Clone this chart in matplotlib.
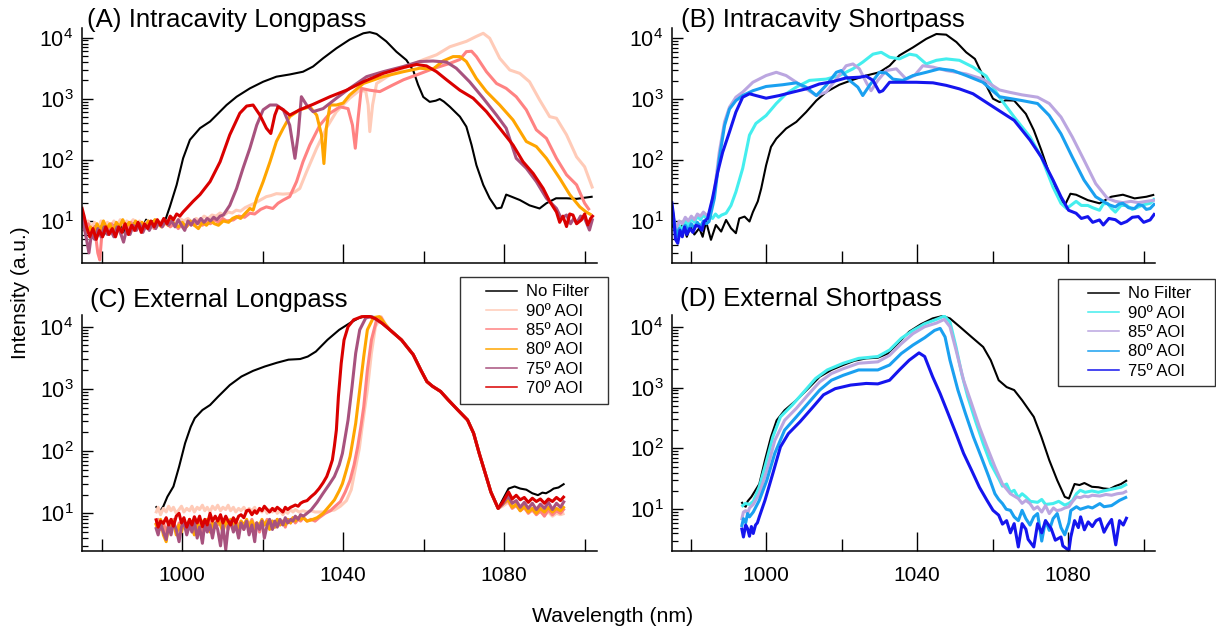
import matplotlib
matplotlib.use('Agg')
import matplotlib.pyplot as plt
from matplotlib.lines import Line2D
from matplotlib.legend_handler import HandlerLine2D
from matplotlib.ticker import FixedLocator, LogLocator, NullFormatter

plt.rcParams['font.family'] = ['Liberation Sans', 'DejaVu Sans']
plt.rcParams['mathtext.fontset'] = 'custom'
plt.rcParams['mathtext.rm'] = 'Liberation Sans'

# ---- data: (wavelength nm, intensity a.u.) ----

# (A) intracavity longpass
ic_lp_nofilter = [
    (975, 11), (975.8, 8), (976.6, 9.5), (977.4, 6.5), (978.2, 8.5), (979, 7), (979.8, 9),
    (980.6, 6), (981.4, 8), (982.2, 7.5), (983, 9.5), (983.8, 7), (984.6, 8.5), (985.4, 6.5),
    (986.2, 9), (987, 8), (987.8, 10), (988.6, 7.5), (989.4, 9), (990.2, 8), (991, 10.5),
    (991.8, 9), (992.6, 10), (993.4, 8.5), (994.2, 9.5), (995, 9), (995.7, 10), (996.9, 17),
    (998.6, 39), (1000.2, 106), (1001.9, 213), (1004.4, 330), (1006.9, 424), (1008.5, 540),
    (1011, 790), (1013.5, 1080), (1016.8, 1480), (1020.1, 1900), (1023.4, 2300), (1026.7, 2500),
    (1030, 2770), (1032.5, 3370), (1035, 4600), (1038.3, 6700), (1041.6, 9300), (1045, 11800),
    (1046.6, 12300), (1048.3, 11500), (1050.7, 8700), (1053.2, 5900), (1055.7, 4300),
    (1057.4, 2900), (1058.6, 1700), (1059.9, 1070), (1061.5, 890), (1063, 930), (1064, 990),
    (1065, 900), (1066.5, 740), (1069, 510), (1070.6, 350), (1071.9, 175), (1073.1, 82),
    (1074.8, 39), (1076.4, 23.5), (1078.1, 16), (1079.3, 16.5), (1080.5, 27), (1081.8, 25),
    (1083.9, 22), (1086.3, 18), (1088.8, 16), (1090.5, 19.5), (1092.9, 23.5), (1095.5, 23.5),
    (1098, 23), (1100, 24), (1102, 25)]
ic_lp_90 = [
    (975, 9), (975.8, 7.5), (976.6, 10), (977.4, 8), (978.2, 9.5), (979, 7.5), (979.8, 10),
    (980.6, 8.5), (981.4, 9.5), (982.2, 8), (983, 10), (983.8, 8.5), (984.6, 10.5), (985.4, 8.5),
    (986.2, 10), (987, 9), (987.8, 10.5), (988.6, 9), (989.4, 10), (990.4, 8.5), (991.4, 10),
    (992.4, 9), (993.4, 10.5), (994.4, 9.5), (995.4, 10.5), (996.4, 9), (997.4, 10.5),
    (998.4, 9.5), (999.4, 11), (1000.4, 10), (1001.4, 11), (1002.4, 9.5), (1003.4, 11),
    (1004.4, 10), (1005.4, 12), (1006.4, 11), (1007.4, 12.5), (1008.4, 12), (1009.4, 13.5),
    (1010.4, 12.5), (1011.4, 14), (1012.4, 13.5), (1013.4, 15), (1014.5, 14.5), (1015.6, 16.5),
    (1016.8, 18), (1018, 19.5), (1019.4, 22), (1020.9, 25), (1022, 26), (1023.4, 28),
    (1025, 27.5), (1026.7, 28), (1028, 30), (1029.2, 34), (1030.9, 64), (1033.4, 155),
    (1035.8, 330), (1038.3, 615), (1041.6, 1020), (1044.1, 1380), (1045.6, 1320), (1046.2, 790),
    (1046.6, 290), (1047.3, 790), (1048.3, 1780), (1051.6, 2450), (1054.9, 3160), (1059.9, 4360),
    (1063.2, 5250), (1066.5, 7100), (1070.6, 8700), (1073.1, 10500), (1074.8, 11800),
    (1076.4, 9800), (1078.9, 4600), (1081.4, 2960), (1083.9, 2600), (1086.3, 1900),
    (1088.8, 960), (1091.3, 510), (1093, 480), (1095.5, 257), (1098, 112), (1100, 77),
    (1102, 34)]
ic_lp_85 = [
    (975, 10), (975.8, 7), (976.6, 9), (977.4, 6.5), (978.2, 8), (979, 3), (979.5, 2.3),
    (980, 6), (980.8, 8.5), (981.6, 6.5), (982.4, 9), (983.2, 7), (984, 8.5), (984.8, 6),
    (985.6, 9), (986.4, 7.5), (987.2, 9.5), (988, 7), (988.8, 8.5), (989.6, 7.5), (990.4, 9),
    (991.2, 8), (992, 9.5), (993, 7.5), (994, 9), (995, 8), (996, 9.5), (997, 8), (998, 9),
    (999, 7.5), (1000, 9), (1001, 8), (1002, 9.5), (1003, 8.5), (1004, 10), (1005, 8.5),
    (1006, 9.5), (1007, 9), (1008, 10.5), (1009, 9.5), (1010, 11), (1011, 10), (1012.7, 10.4),
    (1014, 12), (1015.5, 11.5), (1016.8, 13.4), (1018, 13), (1019.5, 15.5), (1020.9, 17),
    (1022.5, 16), (1023.8, 19.5), (1025.1, 22), (1026.7, 25), (1028.4, 44), (1030, 93),
    (1031.7, 175), (1034.2, 370), (1036.7, 580), (1039.2, 740), (1041.2, 690), (1042.3, 370),
    (1043, 155), (1043.7, 480), (1044.5, 1480), (1046.6, 1380), (1049.1, 1310), (1052.4, 1690),
    (1055, 2050), (1058.2, 2450), (1062.3, 3100), (1066.5, 3800), (1069, 4400), (1070.6, 5900),
    (1071.9, 6000), (1073.1, 4900), (1075.6, 2770), (1078.1, 1780), (1080.5, 1480),
    (1083, 1080), (1085.5, 660), (1088, 310), (1090.5, 225), (1093, 106), (1095.5, 57),
    (1098, 39), (1100, 19.5), (1101.2, 15)]
ic_lp_80 = [
    (975, 12), (975.6, 9), (976.4, 6.5), (977.2, 8), (978, 6), (978.8, 9), (979.6, 7),
    (980.4, 10), (981.2, 7.5), (982, 9), (982.8, 6.5), (983.6, 9.5), (984.4, 8), (985.2, 10.5),
    (986, 8), (986.8, 9.5), (987.6, 7.5), (988.4, 10), (989.2, 8.5), (990, 9.5), (990.8, 8),
    (991.6, 10), (992.4, 8.5), (993.2, 10.5), (994, 9), (994.8, 8), (995.6, 10), (996.4, 8.5),
    (997.2, 10.5), (998, 9), (999, 8), (1000, 9.5), (1001, 8), (1002, 10), (1003, 8.5),
    (1004, 7.5), (1005, 9.5), (1006, 8.5), (1007, 10), (1008, 9), (1009, 8.5), (1010.2, 10),
    (1011.5, 9.5), (1012.5, 11), (1013.5, 11.8), (1014.5, 11), (1015.5, 13), (1016.8, 16),
    (1017.6, 15), (1018.5, 23.5), (1020.1, 44), (1021.8, 93), (1023.4, 200), (1025.1, 330),
    (1026.7, 510), (1029.2, 660), (1031.7, 740), (1033.4, 540), (1034.6, 257), (1035.2, 87),
    (1035.8, 330), (1036.7, 790), (1038.3, 790), (1040, 850), (1041.6, 1150), (1045, 1780),
    (1049.9, 2300), (1054.9, 2770), (1059, 3160), (1062.3, 3050), (1064.8, 4150),
    (1067.3, 4900), (1069, 4900), (1070.6, 4070), (1073.1, 2140), (1075.6, 1310), (1078.9, 790),
    (1082.2, 450), (1085.5, 200), (1088, 165), (1090.5, 106), (1093.8, 50), (1096.3, 27),
    (1098.8, 17), (1100.4, 14), (1101.7, 12.5)]
ic_lp_75 = [
    (975, 15), (975.6, 8), (976.2, 5), (976.8, 3), (977.4, 6), (978.2, 5), (979, 7.5),
    (979.8, 5.5), (980.6, 8), (981.4, 6), (982.2, 7), (983, 5.5), (983.8, 8), (984.6, 6.5),
    (985.4, 4.5), (986.2, 7.5), (987, 6), (987.8, 8.5), (988.6, 7), (989.4, 9), (990.2, 6.5),
    (991, 8.5), (991.8, 7), (992.6, 9), (993.4, 7.5), (994.2, 9.5), (995, 8), (995.8, 10),
    (996.6, 8.5), (997.4, 10), (998.2, 8), (999, 10.5), (999.8, 8.5), (1000.6, 7), (1001.4, 10),
    (1002.2, 8.5), (1003, 10.5), (1003.8, 9), (1004.6, 11), (1005.4, 9.5), (1006.2, 11),
    (1007, 10), (1007.8, 11.5), (1008.6, 10.5), (1009.4, 12), (1010.2, 12.5), (1011.8, 18),
    (1013.5, 34), (1015.1, 73), (1016.8, 155), (1018.5, 370), (1020.1, 660), (1021.8, 790),
    (1023.4, 790), (1025.1, 660), (1026.7, 370), (1028, 106), (1028.8, 257), (1029.6, 1080),
    (1030.9, 790), (1032.5, 615), (1035, 690), (1038.3, 1020), (1041.6, 1480), (1045.8, 2300),
    (1049.9, 2770), (1054.9, 3370), (1059, 4070), (1062.3, 4150), (1065.7, 3980),
    (1068.1, 3160), (1071.4, 1900), (1074.8, 1020), (1078.1, 540), (1080.5, 330), (1083, 106),
    (1085.5, 73), (1088, 44), (1090.5, 23.5), (1093, 16), (1094.2, 11), (1095.5, 12.5),
    (1096.5, 9), (1097.3, 11), (1098, 9.2), (1099, 12), (1100, 11), (1101.2, 7.1), (1102, 11)]
ic_lp_70 = [
    (975, 17), (975.6, 12), (976.2, 8), (977, 5.5), (977.8, 7.5), (978.6, 5), (979.4, 7),
    (980.2, 5.5), (981, 8), (981.8, 6), (982.6, 7.5), (983.4, 5.5), (984.2, 8), (985, 6.5),
    (985.8, 9), (986.6, 6), (987.4, 8.5), (988.2, 7), (989, 9.5), (989.8, 6.5), (990.6, 9),
    (991.4, 7.5), (992.2, 10), (993, 8), (993.8, 10.5), (994.6, 8.5), (995.4, 11), (996.2, 9),
    (997, 12), (997.8, 10.5), (998.6, 13), (999.4, 12), (1000.2, 14), (1001.4, 17),
    (1002.7, 21), (1004.4, 27), (1006.9, 44), (1009.4, 93), (1011.8, 257), (1014.3, 580),
    (1016, 760), (1017.6, 790), (1019.3, 540), (1020.9, 330), (1022, 270), (1023, 540),
    (1023.8, 740), (1025.1, 660), (1026.7, 540), (1029.2, 660), (1032.5, 810), (1036.7, 1080),
    (1040.8, 1380), (1045, 1900), (1049.9, 2600), (1054.9, 3240), (1058.2, 3640),
    (1060.7, 3450), (1063.2, 2770), (1065.7, 2040), (1069, 1380), (1072.3, 1020), (1075.6, 615),
    (1078.9, 330), (1082.2, 175), (1084.7, 93), (1087.2, 60), (1089.7, 34), (1091.3, 21),
    (1093, 14), (1093.8, 9.5), (1094.6, 12), (1095.5, 8.1), (1096.3, 13), (1097.1, 12.5),
    (1098, 9), (1099.2, 10.4), (1100, 13), (1100.8, 8.6), (1101.5, 11), (1102.2, 12.5)]

# (B) intracavity shortpass
ic_sp_nofilter = [
    (975, 9), (976, 7), (977, 6.5), (978, 9), (979, 5.5), (980, 8), (981, 6), (982.3, 7.6),
    (983.2, 5.5), (984.1, 9.8), (985.4, 4.9), (986.7, 8.6), (988.1, 6.7), (989.4, 10.4),
    (990.7, 7.6), (992, 6.3), (992.9, 11), (994.3, 11.8), (995.6, 9.8), (996.5, 14),
    (997.8, 21), (998.7, 34), (1000, 82), (1001.3, 165), (1002.7, 225), (1005.3, 330),
    (1008, 424), (1010.6, 615), (1013.3, 950), (1015.9, 1310), (1019.4, 1730), (1023, 2090),
    (1026.5, 2450), (1030, 2770), (1032.7, 3550), (1035.3, 5250), (1038.9, 7100),
    (1042.4, 9800), (1045.1, 11800), (1047.7, 11500), (1050.4, 8700), (1053, 5900),
    (1055.3, 4600), (1057, 2770), (1058.3, 1690), (1060.1, 1020), (1061.8, 900), (1063.5, 960),
    (1065.7, 950), (1068.8, 575), (1070.9, 310), (1072.9, 145), (1075, 60), (1077, 28),
    (1079.1, 18), (1080.6, 28), (1082.1, 27), (1085.2, 22), (1088.3, 19.5), (1091.4, 25),
    (1094.5, 27), (1097.6, 23.5), (1100.7, 25), (1102.8, 27)]
ic_sp_90 = [
    (975, 15), (975.6, 9), (976.2, 6), (977, 8.5), (977.8, 7), (978.6, 10), (979.4, 8.5),
    (980.2, 11), (981, 9.5), (981.8, 12), (982.6, 10.5), (983.4, 12.5), (984.2, 11),
    (985, 12.5), (985.8, 11), (986.6, 13), (987.4, 11.5), (988.2, 12.5), (989.4, 13.4),
    (990.7, 18), (992, 30), (993.8, 73), (995.6, 257), (997.3, 400), (1000, 540), (1002.7, 850),
    (1005.3, 1230), (1008, 1580), (1011.5, 2040), (1015.9, 2140), (1019.4, 2450), (1023, 3160),
    (1025.6, 4070), (1028.3, 5500), (1030.5, 5900), (1032.7, 4900), (1035.3, 4600),
    (1038, 5500), (1039.8, 5250), (1042.4, 3800), (1045.1, 4360), (1047.7, 4600),
    (1051.2, 4360), (1054.8, 3370), (1058.3, 2400), (1061.7, 1100), (1065.7, 510),
    (1069.9, 240), (1072.9, 112), (1076, 36), (1078.1, 19.5), (1079.6, 16), (1082.1, 21),
    (1083.5, 18), (1085.2, 18), (1086.5, 16.5), (1088.3, 15), (1089.3, 19), (1090.4, 19.5),
    (1091.5, 16), (1092.5, 14), (1094, 18), (1095.5, 18), (1097, 15.5), (1098.6, 17),
    (1100, 18.5), (1101.7, 19.5), (1103, 23.5)]
ic_sp_85 = [
    (975, 17), (975.6, 10), (976.2, 7.5), (977, 10), (977.8, 9), (978.6, 11.5), (979.4, 10),
    (980.2, 12), (981, 10.5), (981.8, 13), (982.6, 12), (983.4, 14), (984.2, 12.5),
    (984.9, 12.6), (986.3, 30), (987.6, 135), (989, 424), (990.3, 740), (992, 1080),
    (993.8, 1310), (996.5, 1900), (1000, 2450), (1002.7, 2770), (1005.3, 2450), (1008, 1900),
    (1010.6, 1480), (1013.3, 1150), (1015.9, 1310), (1018.6, 2140), (1021.2, 3550),
    (1023, 3800), (1024.7, 3160), (1026.5, 1900), (1027.8, 1380), (1029.6, 2040),
    (1031.8, 2960), (1034.5, 3160), (1037.1, 2140), (1039.3, 2450), (1041.5, 3550),
    (1044.2, 3370), (1047.7, 2960), (1053, 2600), (1057.4, 2140), (1061.8, 1420),
    (1064.5, 1300), (1067.8, 1180), (1071.9, 1080), (1075, 850), (1078.1, 510), (1081.1, 240),
    (1084.2, 100), (1087.3, 41), (1090.4, 23.5), (1092.5, 21), (1094.5, 20), (1096.6, 21),
    (1098.6, 20), (1100.7, 21), (1103, 22)]
ic_sp_80 = [
    (975, 18), (975.6, 10), (976.2, 5.5), (977, 7.5), (977.8, 6), (978.6, 8.5), (979.4, 7),
    (980.2, 9), (981, 7.5), (981.8, 9.5), (982.6, 8), (983.4, 10), (984.2, 9), (984.9, 9.8),
    (986.3, 23.5), (987.6, 106), (989, 370), (990.3, 690), (992, 950), (993.8, 1150),
    (996.5, 1380), (1000, 1620), (1004.4, 1730), (1008, 1860), (1010.6, 1580), (1013.3, 1150),
    (1015.9, 1690), (1018.6, 2770), (1019.9, 2960), (1022.1, 2040), (1024.3, 1580),
    (1025.6, 1150), (1027.4, 1690), (1030, 2770), (1031.8, 2700), (1033.6, 2140),
    (1036.2, 2040), (1038.9, 2450), (1042.4, 2770), (1045.9, 3160), (1049.5, 2960),
    (1053, 2450), (1057.4, 1900), (1061.8, 1100), (1067.8, 950), (1071.9, 850), (1075, 540),
    (1078.1, 270), (1081.1, 112), (1084.2, 47), (1087.3, 25), (1089.3, 21), (1090.8, 18.5),
    (1092.5, 17), (1093.5, 19), (1094.5, 19.5), (1096, 16.5), (1097.6, 16), (1098.6, 18.5),
    (1099.7, 18), (1100.7, 15.5), (1101.7, 16), (1103, 19.5)]
ic_sp_75 = [
    (975, 21), (975.5, 12), (976, 5), (976.6, 4.3), (977.2, 7), (977.8, 5.5), (978.4, 8),
    (979, 6), (979.8, 7.5), (980.6, 6.5), (981.4, 8.5), (982.3, 8.1), (983, 7), (983.6, 9.8),
    (984.5, 11), (985.8, 23.5), (987.2, 64), (988.5, 135), (990.3, 290), (992, 615),
    (993.8, 1080), (995.6, 1230), (997.3, 1150), (1000, 1040), (1003.5, 1150), (1007.1, 1310),
    (1010.6, 1480), (1014.1, 1780), (1017.7, 1950), (1021.2, 2240), (1024.7, 2300),
    (1026.5, 2400), (1028.3, 2040), (1030, 1310), (1030.9, 1380), (1032.7, 1900),
    (1035.3, 1900), (1039.8, 1900), (1044.2, 1860), (1047.7, 1690), (1051.2, 1480),
    (1054.8, 1230), (1058.3, 890), (1061.7, 650), (1065.7, 450), (1069.9, 213), (1072.9, 112),
    (1076, 47), (1078.1, 25), (1080.1, 15), (1082.1, 13.4), (1083.5, 11), (1085.2, 11.8),
    (1086.5, 9.5), (1088.3, 10.4), (1089.3, 8.6), (1090.8, 11), (1092.5, 10.5), (1094, 9),
    (1095.5, 9.8), (1097, 11.5), (1098.6, 11.8), (1100, 9.5), (1101.7, 10.4), (1103, 13.4)]

# (C) external longpass: rise + peak, shared decay, noise floor after 1079 nm
ext_lp_decay = [
    (1051.6, 8900), (1054.5, 6100), (1057.4, 3550), (1059.3, 2000), (1060.8, 1310),
    (1062.2, 1100), (1064.2, 910), (1066.1, 665), (1068.5, 457), (1070.9, 316), (1072.4, 194),
    (1073.8, 92), (1075.3, 44), (1076.7, 22), (1078.5, 12)]
ext_lp_nofilter_rise = [
    (993.4, 13), (994.4, 10.6), (995.3, 13), (996.3, 18.5), (997.8, 27), (999.2, 56),
    (1000.7, 134), (1002.1, 246), (1003.1, 338), (1005, 457), (1006.9, 550), (1008.9, 750),
    (1011.8, 1150), (1014.7, 1580), (1017.6, 1950), (1020.5, 2290), (1023.5, 2630),
    (1026.4, 2950), (1029.3, 3020), (1031.2, 3310), (1033.2, 3980), (1036.1, 6160),
    (1039, 8900), (1041.9, 11700), (1043.9, 13800), (1045.8, 14800), (1047.7, 14300),
    (1049.7, 11300)]
ext_lp_nofilter_floor = [
    (1079.6, 16.4), (1081.1, 25), (1082.6, 27), (1084, 25), (1085.5, 24), (1087, 21),
    (1088.4, 19.6), (1089.5, 21.5), (1090.4, 21), (1091.5, 23), (1092.3, 25), (1093.5, 26),
    (1095, 30)]
ext_lp_90_rise = [
    (993.4, 10), (994, 12.5), (994.6, 9.5), (995.3, 12), (996, 10.5), (996.6, 13), (997.2, 11),
    (997.8, 12.5), (998.5, 10), (999.2, 11.5), (999.8, 13), (1000.4, 10.5), (1001.1, 12),
    (1001.8, 11), (1002.4, 13), (1003, 10.5), (1003.7, 12.5), (1004.3, 11.5), (1005, 13.5),
    (1005.6, 11), (1006.2, 12.5), (1006.9, 10.5), (1007.5, 13), (1008.2, 11.5), (1008.8, 13.5),
    (1009.5, 11), (1010.1, 12.5), (1010.8, 11.5), (1011.4, 13.5), (1012, 11), (1012.7, 12.5),
    (1013.3, 10.5), (1014, 12), (1014.6, 11), (1015.3, 12.5), (1016, 10.5), (1016.6, 12),
    (1017.3, 11), (1018, 12.5), (1018.5, 10), (1019.2, 11.5), (1019.8, 10.5), (1020.4, 12),
    (1021.1, 10), (1021.7, 11.5), (1022.4, 10.5), (1023, 12), (1023.6, 10), (1024.3, 11),
    (1025, 9.5), (1025.6, 11), (1026.2, 10), (1026.9, 11.5), (1027.5, 10.5), (1028.1, 11.5),
    (1029, 10.5), (1030, 11), (1031, 10.5), (1032, 11), (1033, 10.5), (1035, 10.5),
    (1037.8, 11.3), (1039.3, 13), (1040.8, 16), (1042, 24), (1043.1, 56), (1044, 110),
    (1044.6, 219), (1046, 960), (1047, 3720), (1048, 10000), (1049.4, 14500), (1050.5, 11000)]
ext_lp_90_floor = [
    (1079.6, 13), (1081, 15), (1082, 12.5), (1083, 13), (1084, 11.5), (1085, 12), (1086, 10.5),
    (1087, 11), (1088, 10), (1089, 10.5), (1090, 9.5), (1091, 10.5), (1092, 9), (1093, 10),
    (1094, 9.5), (1095, 10)]
ext_lp_85_rise = [
    (993.4, 6.5), (994, 8), (994.6, 5.5), (995.3, 7.5), (996, 4.5), (996.6, 7), (997.2, 6),
    (997.8, 8), (998.5, 5), (999.2, 7), (999.8, 5.5), (1000.4, 7.5), (1001.1, 4.8),
    (1001.8, 7), (1002.4, 6), (1003, 8), (1003.7, 5.5), (1004.3, 7), (1005, 5), (1005.6, 7.5),
    (1006.2, 6), (1006.9, 8), (1007.5, 5.5), (1008.2, 7), (1008.8, 6.5), (1009.5, 8),
    (1010.1, 6), (1010.8, 7.5), (1011.4, 5.5), (1012, 7), (1012.7, 6.5), (1013.3, 8),
    (1014, 6), (1014.6, 7.5), (1015.3, 5.5), (1016, 7.5), (1016.6, 6.5), (1017.3, 8),
    (1018, 6), (1018.5, 7), (1019.2, 5), (1019.8, 7.5), (1020.4, 6.5), (1021.1, 8),
    (1021.7, 6.5), (1022.4, 7.5), (1023, 6), (1023.6, 8), (1024.3, 6.5), (1025, 7.5),
    (1025.6, 6), (1026.2, 8), (1026.9, 7), (1027.5, 8.5), (1028.1, 7), (1028.8, 8),
    (1029.4, 7.5), (1030.1, 8.5), (1031, 7.5), (1032, 8), (1033, 7.5), (1034, 8.5),
    (1035.5, 10), (1036.8, 11), (1038, 13), (1039.3, 15.4), (1040.5, 22), (1041.7, 34),
    (1042.7, 60), (1043.6, 118), (1044.4, 250), (1045.1, 515), (1046, 2000), (1047, 6100),
    (1048.3, 12900), (1049.4, 14000), (1050.5, 10500)]
ext_lp_85_floor = [
    (1079.6, 14), (1081, 16), (1082, 12), (1083, 13.5), (1084, 11), (1085, 12.5), (1086, 10),
    (1087, 11.5), (1088, 9.5), (1089, 11), (1090, 9), (1091, 11.5), (1092, 9.5), (1093, 11),
    (1094, 10), (1095, 12)]
ext_lp_80_rise = [
    (993.4, 7), (994, 5), (994.6, 8), (995.3, 4.5), (996, 3.5), (996.6, 6.5), (997.2, 5.5),
    (997.8, 7.5), (998.5, 4.5), (999.2, 6.5), (999.8, 5), (1000.4, 7), (1001.1, 5.5),
    (1001.8, 8), (1002.4, 6), (1003, 4.5), (1003.7, 7), (1004.3, 5.5), (1005, 7.5),
    (1005.6, 6), (1006.2, 8), (1006.9, 5), (1007.5, 7), (1008.2, 6), (1008.8, 8),
    (1009.5, 6.5), (1010.1, 5), (1010.8, 7.5), (1011.4, 6.5), (1012, 8), (1012.7, 6),
    (1013.3, 7), (1014, 5.5), (1014.6, 7.5), (1015.3, 6.5), (1016, 8), (1016.6, 6),
    (1017.3, 7.5), (1018, 5.5), (1018.5, 7), (1019.2, 6.5), (1019.8, 8), (1020.4, 6.5),
    (1021.1, 7.5), (1021.7, 5.5), (1022.4, 7.5), (1023, 6), (1023.6, 8), (1024.3, 6.5),
    (1025, 7.5), (1025.6, 6.5), (1026.2, 8), (1026.9, 7), (1027.5, 8.5), (1028.1, 7.5),
    (1028.8, 8.5), (1029.4, 8), (1030.1, 8.5), (1031, 7.5), (1032, 7.8), (1033.5, 8.5),
    (1035, 10), (1036.5, 13), (1037.8, 16.4), (1039, 23), (1039.8, 30), (1040.8, 50),
    (1041.7, 82), (1042.4, 150), (1043.1, 280), (1044.1, 960), (1045.1, 3310), (1046, 8900),
    (1047.5, 14000), (1049, 14500), (1050.5, 10800)]
ext_lp_80_floor = [
    (1079.6, 14), (1081, 17), (1082, 12.5), (1083, 14), (1084, 11), (1085, 13), (1086, 10.5),
    (1087, 12), (1088, 10), (1089, 12), (1090, 10.5), (1091, 12.5), (1092, 10.5), (1093, 12),
    (1094, 11), (1095, 13)]
ext_lp_75_rise = [
    (993.4, 6), (994, 4.5), (994.6, 7), (995.3, 5), (996, 3.8), (996.6, 6.5), (997.2, 4.5),
    (997.8, 7), (998.5, 5.5), (999.2, 3.5), (999.8, 6), (1000.4, 7.5), (1001.1, 4.5),
    (1001.8, 6.5), (1002.4, 5), (1003, 7.5), (1003.7, 4), (1004.3, 6), (1005, 3.3),
    (1005.6, 7), (1006.2, 5), (1006.9, 6.5), (1007.5, 4), (1008.2, 7), (1008.8, 5.5),
    (1009.5, 3), (1010.1, 6.5), (1010.8, 2.6), (1011.4, 6), (1012, 7.5), (1012.7, 5),
    (1013.3, 6.5), (1014, 4), (1014.6, 7), (1015.3, 5.5), (1016, 7.5), (1016.6, 4.5),
    (1017.3, 6.5), (1018, 3.5), (1018.5, 7), (1019.2, 5.5), (1019.8, 7.5), (1020.4, 4),
    (1021.1, 6.5), (1021.7, 8), (1022.4, 5.5), (1023, 7.5), (1023.6, 6), (1024.3, 8),
    (1025, 6.5), (1025.6, 8.5), (1026.2, 7), (1026.9, 8), (1027.5, 7.5), (1028.1, 9),
    (1028.8, 8), (1029.4, 9.5), (1030.1, 9), (1031, 10), (1032, 11.3), (1033.5, 15),
    (1035, 21), (1036.5, 29), (1037.8, 39), (1039, 60), (1039.8, 92), (1040.5, 170),
    (1041.2, 316), (1042.2, 1100), (1043.1, 3750), (1044.1, 8900), (1045.6, 13800),
    (1047, 14500), (1049.7, 11300)]
ext_lp_75_floor = [
    (1079.6, 14), (1081, 19), (1082, 14.5), (1083, 16), (1084, 12.5), (1085, 15), (1086, 12),
    (1087, 14.5), (1088, 11.5), (1089, 14), (1090, 12), (1091, 15), (1092, 11.5), (1093, 14.5),
    (1094, 12.5), (1095, 16)]
ext_lp_70_rise = [
    (993.4, 8.3), (994, 6), (994.6, 7.5), (995.3, 6.9), (996, 8.5), (996.6, 6.5), (997.2, 8),
    (997.8, 6.2), (998.5, 9), (999.2, 10), (999.8, 7), (1000.4, 8.5), (1001.1, 6), (1001.8, 8),
    (1002.4, 6.5), (1003, 8.8), (1003.7, 7), (1004.3, 9), (1005, 6.1), (1005.6, 8),
    (1006.2, 6.5), (1006.9, 10), (1007.5, 7.5), (1008.2, 9), (1008.8, 7.5), (1009.5, 9.5),
    (1010.1, 7), (1010.8, 9), (1011.4, 7.5), (1012, 6.5), (1012.7, 8.5), (1013.3, 7),
    (1014, 9), (1014.6, 9.5), (1015.3, 8.5), (1016, 11), (1016.6, 11.3), (1017.3, 9.5),
    (1018, 11), (1018.5, 10), (1019.2, 12), (1019.8, 11), (1020.4, 13), (1021.1, 11.5),
    (1021.7, 10.5), (1022.4, 12), (1023, 11), (1023.6, 12.5), (1024.3, 11.5), (1025, 10.5),
    (1025.6, 12.5), (1026.2, 11.5), (1026.9, 12.5), (1027.5, 13), (1028.1, 13.6), (1028.8, 13),
    (1029.4, 14.5), (1030.1, 15.4), (1031, 16), (1032, 18.5), (1033, 21), (1034, 25),
    (1035, 31), (1035.9, 39), (1036.6, 52), (1037.3, 72), (1037.8, 120), (1038.3, 219),
    (1038.8, 750), (1039.5, 2580), (1040.2, 6100), (1041.2, 10000), (1042.6, 12900),
    (1044.6, 14500), (1046.5, 14600), (1048, 13500), (1049.7, 11300)]
ext_lp_70_floor = [
    (1079.6, 15), (1081.1, 22), (1082, 17), (1083, 19.5), (1084, 16.5), (1085, 18), (1086, 15),
    (1087, 17.5), (1088, 15.5), (1089, 17), (1090, 14.5), (1091, 17), (1092, 15.5), (1093, 18),
    (1094, 16), (1095, 19)]

# (D) external shortpass
ext_sp_nofilter = [
    (993.5, 13.2), (994.1, 11.5), (994.6, 11), (995.1, 13.5), (996.1, 16), (998.2, 26),
    (999.7, 64), (1001.3, 155), (1002.8, 290), (1004.9, 424), (1008, 620), (1011.1, 960),
    (1014.2, 1510), (1017.3, 1950), (1020.4, 2350), (1023.4, 2760), (1026.5, 3020),
    (1029.6, 3100), (1032.2, 3630), (1034.8, 5250), (1037.9, 8300), (1041, 11000),
    (1044.1, 13700), (1046.7, 15000), (1048.7, 13700), (1051.3, 10000), (1054.4, 6800),
    (1057.5, 4650), (1059.5, 2820), (1061.6, 1320), (1063.7, 1020), (1065.7, 910),
    (1067.8, 620), (1070.9, 330), (1072.9, 155), (1075, 64), (1077.1, 30), (1079.1, 16),
    (1080.2, 15), (1081.7, 26), (1083, 25), (1084.3, 27), (1086.3, 23.4), (1088, 23),
    (1089.4, 22), (1091, 21.5), (1092.5, 24), (1094, 26), (1095.6, 30)]
ext_sp_90 = [
    (993.5, 11), (994.5, 12.5), (995.6, 12), (996.6, 13.5), (998.2, 23.5), (999.7, 50),
    (1001.8, 155), (1003.8, 330), (1006.9, 515), (1010, 850), (1013.1, 1410), (1016.2, 1950),
    (1020.4, 2510), (1024.5, 3020), (1029.6, 3240), (1032.7, 4150), (1035.8, 6460),
    (1038.9, 8700), (1042, 11200), (1045.1, 13200), (1047.2, 15000), (1048.7, 12000),
    (1050.3, 4650), (1051.8, 1700), (1053.4, 710), (1055.4, 290), (1057.5, 120), (1059.5, 56),
    (1061.6, 32), (1062.6, 24), (1063.7, 26), (1064.7, 19), (1065.7, 20.5), (1066.8, 15.5),
    (1067.8, 18), (1068.8, 16), (1070, 13.5), (1071.9, 13), (1073, 14.5), (1074, 12),
    (1076, 12.4), (1077.5, 13.5), (1079.1, 11.7), (1080.2, 12.5), (1081.2, 14), (1082.2, 18),
    (1083.2, 20.5), (1084.5, 19), (1086.3, 20), (1088, 19), (1089.4, 20), (1091, 21),
    (1092.5, 22), (1094, 23), (1095.6, 26)]
ext_sp_85 = [
    (993.5, 6.6), (994, 9), (994.6, 9.5), (995.1, 8.5), (995.6, 10.5), (996.6, 12),
    (998.2, 18), (1000.2, 44), (1002.3, 135), (1004.9, 290), (1008, 455), (1011.1, 760),
    (1014.2, 1240), (1017.3, 1700), (1020.4, 2040), (1024.5, 2510), (1029.6, 2650),
    (1032.7, 3390), (1035.8, 5250), (1038.9, 7700), (1042, 10000), (1045.1, 11500),
    (1047.2, 13200), (1048.7, 10000), (1050.3, 4150), (1052.3, 1320), (1054.4, 550),
    (1056.5, 225), (1058.5, 106), (1060.6, 50), (1062.6, 26), (1064.7, 18), (1066.8, 15),
    (1067.8, 12.5), (1068.8, 14), (1069.9, 12.4), (1070.9, 10), (1071.9, 11), (1073, 9),
    (1074, 11.5), (1075, 8.5), (1076.1, 10.5), (1077, 9.5), (1078.1, 9.8), (1079.1, 10.5),
    (1080.2, 11), (1081.2, 13.5), (1082.2, 16), (1083.2, 15.5), (1084.3, 16.5), (1085.3, 16),
    (1086.4, 17), (1088.4, 16.5), (1090, 17.5), (1091.5, 17), (1093, 18), (1094.5, 18.5),
    (1095.6, 20)]
ext_sp_80 = [
    (993.5, 5.1), (994, 7), (994.6, 6), (995.1, 8.5), (995.6, 7.5), (996.6, 9), (998.2, 14),
    (1000.2, 30), (1002.3, 83), (1004.9, 200), (1008, 330), (1011.1, 550), (1014.2, 910),
    (1017.3, 1320), (1020.4, 1590), (1024.5, 1950), (1029.6, 1950), (1032.7, 2350),
    (1035.8, 3630), (1038.9, 5000), (1042, 6600), (1044.6, 8700), (1046.1, 9400),
    (1047.4, 6800), (1048.7, 2820), (1050.8, 910), (1052.8, 375), (1054.9, 155), (1057, 72),
    (1059, 34), (1060.6, 18), (1061.6, 14.5), (1062.6, 12.4), (1063.6, 10), (1064.7, 9.6),
    (1065.7, 7.5), (1066.8, 6.5), (1067.8, 9.6), (1068.8, 7), (1069.9, 5.5), (1070.9, 7.5),
    (1071.9, 8.5), (1073, 3), (1074, 6.5), (1075, 4.5), (1076, 7), (1077.1, 8.5), (1078.1, 5),
    (1079.1, 3.8), (1080.2, 6), (1080.7, 9.5), (1082.2, 11), (1083.2, 10), (1085.3, 11),
    (1086.4, 10.5), (1088.4, 12.4), (1089.5, 11), (1091.5, 11.5), (1093.6, 14), (1095.6, 16)]
ext_sp_75 = [
    (993.5, 5), (994, 3.5), (994.6, 5.5), (995.1, 4.8), (995.6, 3.6), (996.1, 5.2), (996.6, 4),
    (997.2, 5.5), (997.7, 6), (998.2, 7.5), (999.7, 14), (1001.8, 39), (1003.8, 106),
    (1005.9, 175), (1009, 275), (1012.1, 455), (1015.2, 760), (1018.3, 960), (1022.4, 1100),
    (1026.5, 1170), (1029.6, 1150), (1032.7, 1320), (1035.3, 1950), (1037.9, 2820),
    (1040.5, 3720), (1042, 3240), (1044.1, 1510), (1046.1, 795), (1048.2, 375), (1050.3, 175),
    (1052.3, 83), (1054.4, 44), (1056.5, 23), (1058.5, 14), (1060.1, 9.6), (1061.6, 8),
    (1062.6, 5.7), (1063.7, 6.5), (1064.7, 4.1), (1065.7, 5.8), (1066.8, 2.4), (1067.8, 5.8),
    (1068.8, 4.7), (1069.4, 3.2), (1070.9, 2.4), (1071.9, 5.8), (1073, 4.1), (1074, 6.5),
    (1075.5, 4.8), (1076.6, 3.1), (1078.1, 3.5), (1078.6, 2.5), (1080.2, 2.1), (1080.7, 3.5),
    (1081.7, 6.5), (1082.7, 5), (1083.3, 7.5), (1084.3, 4.6), (1085.3, 6.2), (1086.4, 5.2),
    (1087.4, 6.5), (1088.4, 7), (1089.5, 4.2), (1090.5, 5.5), (1091.5, 6.8), (1092.6, 2.6),
    (1093.6, 6.5), (1094.6, 5.5), (1095.6, 7.5)]

lp_labels = ['No Filter', '90º AOI', '85º AOI', '80º AOI', '75º AOI', '70º AOI']
sp_labels = ['No Filter', '90º AOI', '85º AOI', '80º AOI', '75º AOI']
lp_colors = ['black', '#FFCBB8', '#FF8282', '#FFA500', '#A8527E', '#DA0000']
sp_colors = ['black', '#44EEEE', '#BBA6E0', '#1AA0F0', '#1515EE']
line_widths = [1.5, 2.2, 2.2, 2.2, 2.2, 2.2]

wl_major = [1000, 1040, 1080]
wl_minor = [980, 1020, 1060, 1100]
decades = [10, 100, 1000, 10000]

ext_lp_curves = [
    ext_lp_nofilter_rise + ext_lp_decay + ext_lp_nofilter_floor,
    ext_lp_90_rise + ext_lp_decay + ext_lp_90_floor,
    ext_lp_85_rise + ext_lp_decay + ext_lp_85_floor,
    ext_lp_80_rise + ext_lp_decay + ext_lp_80_floor,
    ext_lp_75_rise + ext_lp_decay + ext_lp_75_floor,
    ext_lp_70_rise + ext_lp_decay + ext_lp_70_floor,
]

W, H = 1216, 631
fig = plt.figure(figsize=(W / 100, H / 100), dpi=100)


def px_axes(x0, x1, y_top, y_bot):
    return fig.add_axes([x0 / W, 1 - y_bot / H, (x1 - x0) / W, (y_bot - y_top) / H])


def style(ax, ylim, xlabels):
    ax.set_yscale('log')
    ax.set_xlim(975, 1103)
    ax.set_ylim(*ylim)
    ax.set_facecolor('none')
    ax.spines[['top', 'right']].set_visible(False)
    for s in ('left', 'bottom'):
        ax.spines[s].set_linewidth(1.1)
    ax.xaxis.set_major_locator(FixedLocator(wl_major))
    ax.xaxis.set_minor_locator(FixedLocator(wl_minor))
    ax.set_xticklabels([str(v) for v in wl_major] if xlabels else [])
    ax.set_yticks(decades, labels=[r'$\mathregular{10^{%d}}$' % i for i in range(1, 5)])
    ax.yaxis.set_minor_locator(LogLocator(base=10, subs=range(2, 10), numticks=20))
    ax.yaxis.set_minor_formatter(NullFormatter())
    ax.tick_params(axis='x', which='major', direction='in', length=13.5, width=1.0,
                   pad=11, labelsize=15)
    ax.tick_params(axis='x', which='minor', direction='in', length=8.5, width=1.0)
    ax.tick_params(axis='y', which='major', direction='in', length=8, width=1.0,
                   pad=6, labelsize=15.5)
    ax.tick_params(axis='y', which='minor', direction='in', length=4.5, width=0.9)


def draw(ax, curves, colors):
    for pts, c, lw in zip(curves, colors, line_widths):
        wl, val = zip(*pts)
        ax.plot(wl, val, color=c, lw=lw, solid_joinstyle='round', solid_capstyle='butt')


def legend(ax, labels, colors, x0, x1, top, xpad, hlen):
    handles = [Line2D([], [], color=c, lw=1.1) for c in colors]
    leg = ax.legend(handles, labels, loc='upper left',
                    bbox_to_anchor=(x0 / W, 1 - top / H - 0.3, (x1 - x0) / W, 0.3),
                    bbox_transform=fig.transFigure, mode='expand', borderaxespad=0,
                    fontsize=12, fancybox=False, framealpha=1, edgecolor='#333333',
                    borderpad=0.45, labelspacing=0.26, handlelength=hlen, handletextpad=0.5,
                    handler_map={Line2D: HandlerLine2D(xpad=xpad)})
    leg.get_frame().set_linewidth(1.0)


axA = px_axes(81.7, 596.7, 28, 263)
axB = px_axes(671.7, 1155, 28, 263)
axC = px_axes(81.7, 596.7, 315, 551)
axD = px_axes(671.7, 1155, 315, 551)

draw(axA, [ic_lp_nofilter, ic_lp_90, ic_lp_85, ic_lp_80, ic_lp_75, ic_lp_70], lp_colors)
draw(axB, [ic_sp_nofilter, ic_sp_90, ic_sp_85, ic_sp_80, ic_sp_75], sp_colors)
draw(axC, ext_lp_curves, lp_colors)
draw(axD, [ext_sp_nofilter, ext_sp_90, ext_sp_85, ext_sp_80, ext_sp_75], sp_colors)

style(axA, (2.05, 14400), False)
style(axB, (2.04, 14800), False)
style(axC, (2.48, 15400), True)
style(axD, (2.06, 15600), True)

legend(axC, lp_labels, lp_colors, 460, 607.7, 277, 1.12, 2.98)
legend(axD, sp_labels, sp_colors, 1058, 1214.5, 279, 1.37, 3.23)

titles = [('(A) Intracavity Longpass', 87, 27), ('(B) Intracavity Shortpass', 681, 27),
          ('(C) External Longpass', 90, 307), ('(D) External Shortpass', 680, 306)]
for txt, x, y in titles:
    fig.text(x / W, 1 - y / H, txt, fontsize=18.6, va='baseline', ha='left')

fig.text(613 / W, 1 - 621.5 / H, 'Wavelength (nm)', fontsize=15.3, ha='center', va='baseline')
fig.text(20.6 / W, 1 - 292.5 / H, 'Intensity (a.u.)', fontsize=15, rotation=90,
         ha='center', va='center')

fig.savefig('out.png', dpi=100)
